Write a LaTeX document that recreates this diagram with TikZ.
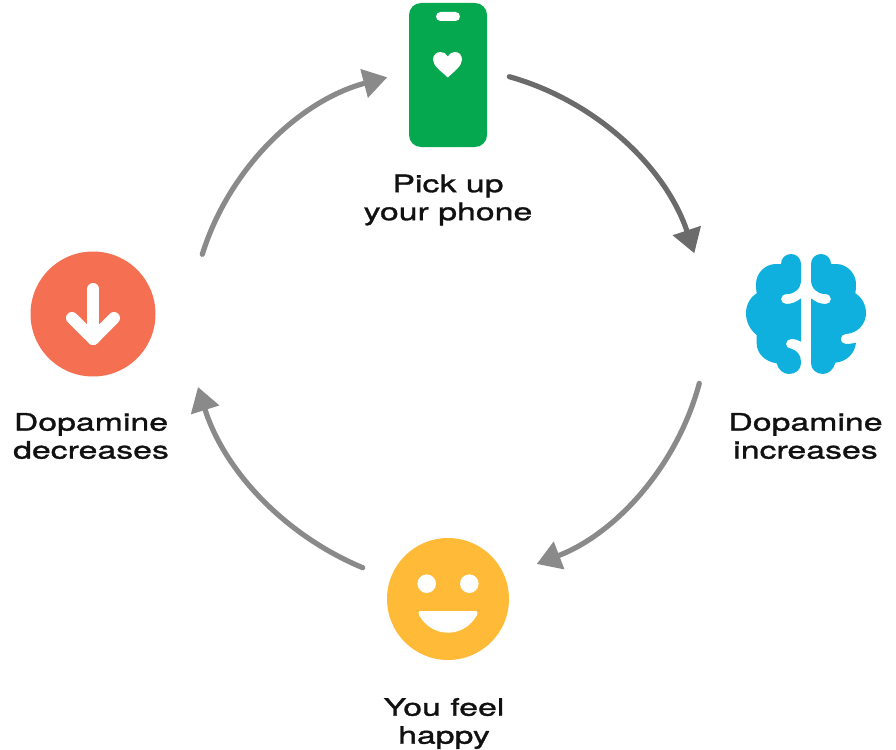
\documentclass[tikz,border=0pt]{standalone}
\usepackage{fontspec}
\setmainfont[FakeStretch=1.41,FakeBold=1.3]{TeX Gyre Heros}
\usetikzlibrary{arrows.meta,shapes.geometric}
\definecolor{phonegreen}{HTML}{05A84F}
\definecolor{brainblue}{HTML}{0FAFDE}
\definecolor{smileyellow}{HTML}{FFBA38}
\definecolor{downred}{HTML}{F57052}
\definecolor{cyclegray}{HTML}{8A8A8A}
\definecolor{darkgray}{HTML}{6B6B6B}
\definecolor{labelink}{HTML}{111111}
\tikzset{
  x=1pt,y=-1pt,
  cycleline/.style={line width=5.2pt,line cap=round,cyclegray,-{Triangle[length=24pt,width=28.5pt]},looseness=0.9},
  steplabel/.style={inner sep=0pt,align=center,text=labelink,font=\fontsize{24}{28}\selectfont},
  badge/.style={circle,inner sep=0pt,draw=none},
  whiteline/.style={line width=12pt,white,line cap=round,line join=round},
}
\begin{document}
\begin{tikzpicture}
\useasboundingbox (0,0) rectangle (896,749);
% phone
\node[draw=none,fill=phonegreen,rounded corners=12pt,minimum width=78pt,minimum height=144pt,inner sep=0pt] (phone) at (448,75) {};
\fill[white,rounded corners=4.5pt] (436,12) rectangle (460,21);
\fill[white] (447.8,77.5) .. controls (441,71) and (433,66) .. (433,59.5)
  .. controls (433,55) and (436.5,52) .. (440.5,52)
  .. controls (443.5,52) and (446.3,53.5) .. (447.8,56.5)
  .. controls (449.3,53.5) and (452,52) .. (455,52)
  .. controls (459,52) and (462,55) .. (462,59.5)
  .. controls (462,66) and (454.5,71) .. (447.8,77.5) -- cycle;
\node[steplabel] (phonelabel) at (448,200) {Pick up\\your phone};
% brain
\coordinate (brain) at (806,314);
\begin{scope}[shift={(730,240)},scale=1/3]
\fill[brainblue] (213,72) -- (213,120) .. controls (213,145) and (195,162) .. (172,162)
  .. controls (160,162) and (153,169) .. (153,177) .. controls (153,185) and (160,192) .. (168,192)
  .. controls (185,192) and (200,186) .. (213,175) -- (213,305)
  .. controls (205,300) and (195,297) .. (183,297)
  .. controls (174,297) and (168,304) .. (168,312) .. controls (168,320) and (174,326) .. (183,326)
  .. controls (200,330) and (213,345) .. (213,365) -- (213,370)
  .. controls (213,388) and (197,402) .. (177,402)
  .. controls (160,402) and (145,390) .. (140,370)
  .. controls (105,365) and (80,340) .. (80,310) -- (80,285)
  .. controls (60,270) and (48,245) .. (48,220)
  .. controls (48,195) and (60,172) .. (80,160)
  .. controls (78,150) and (78,140) .. (78,132)
  .. controls (78,100) and (105,72) .. (138,72) -- (153,72)
  .. controls (153,55) and (166,42) .. (183,42)
  .. controls (200,42) and (213,55) .. (213,72) -- cycle;
\fill[brainblue] (243,72) .. controls (243,55) and (256,42) .. (273,42)
  .. controls (290,42) and (303,55) .. (303,72) -- (318,72)
  .. controls (351,72) and (378,100) .. (378,132)
  .. controls (378,140) and (378,150) .. (376,160)
  .. controls (396,172) and (408,195) .. (408,220)
  .. controls (408,250) and (385,280) .. (347,282)
  .. controls (339,282) and (332,289) .. (332,297)
  .. controls (332,305) and (339,312) .. (347,312)
  .. controls (358,312) and (368,311) .. (378,308)
  .. controls (375,340) and (350,365) .. (316,368)
  .. controls (311,388) and (296,402) .. (279,402)
  .. controls (259,402) and (243,388) .. (243,370) -- (243,175)
  .. controls (256,186) and (271,192) .. (288,192)
  .. controls (296,192) and (303,185) .. (303,177)
  .. controls (303,169) and (296,162) .. (285,162)
  .. controls (262,162) and (243,145) .. (243,120) -- cycle;
\end{scope}
\node[steplabel] (brainlabel) at (805.5,436) {Dopamine\\increases};
% smiley
\node[badge,fill=smileyellow,minimum size=122pt] (smile) at (448,599) {};
\fill[white] (426.7,583.7) circle[radius=9.3pt] (469.3,583.7) circle[radius=9.3pt];
\fill[white] (421,611) -- (475,611) .. controls (478,611) and (478,613) .. (477,615)
  .. controls (471,626) and (460,632.7) .. (448,632.7)
  .. controls (436,632.7) and (425,626) .. (419,615)
  .. controls (418,613) and (418,611) .. (421,611) -- cycle;
\node[steplabel] (smilelabel) at (444,723.5) {You feel\\happy};
% down badge
\node[badge,fill=downred,minimum size=125pt] (down) at (93,314) {};
\draw[whiteline] (93.3,289) -- (93.3,339);
\draw[whiteline] (72,318) -- (93.3,339) -- (114,318);
\node[steplabel] (downlabel) at (91,436) {Dopamine\\decreases};
% connector ends
\coordinate (a1) at (509.3,76.7);  \coordinate (b1) at (694.3,253.3);
\coordinate (a2) at (699.3,383.3); \coordinate (b2) at (536.7,564);
\coordinate (a3) at (362.7,567.7); \coordinate (b3) at (198,387);
\coordinate (a4) at (202.3,254.3); \coordinate (b4) at (387.3,77.3);
\draw[cycleline,darkgray,bend left=28] (a1) to (b1);
\draw[cycleline,bend left=27] (a2) to (b2);
\draw[cycleline,bend left=25] (a3) to (b3);
\draw[cycleline,bend left=29] (a4) to (b4);
\end{tikzpicture}
\end{document}
